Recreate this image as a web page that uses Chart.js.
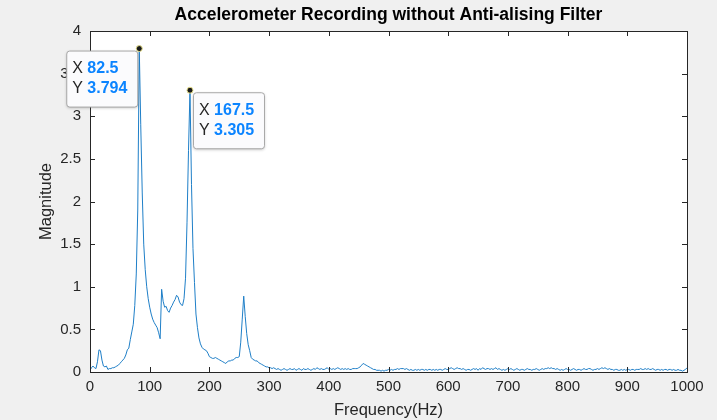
<!DOCTYPE html>
<html>
<head>
<meta charset="utf-8">
<script src="https://cdn.jsdelivr.net/npm/chart.js@4"></script>
<style>
  html, body { margin: 0; padding: 0; background: #f0f0f0; }
  #wrap { width: 717px; height: 420px; }
</style>
</head>
<body>
<div id="wrap"><canvas id="fft" width="717" height="420"></canvas></div>
<script>
const freqStep = 2.5;

// magnitude at 0, 2.5, 5 ... 1000 Hz
const magnitude = [
    0.02, 0.05, 0.07, 0.05, 0.04, 0.12, 0.26, 0.25, 0.14, 0.07, 0.06, 0.07, 0.03, 0.04, 0.04, 0.05, 0.05, 0.06, 0.07, 0.08,
    0.10, 0.12, 0.14, 0.16, 0.20, 0.26, 0.28, 0.38, 0.47, 0.56, 0.78, 1.15, 1.90, 3.794, 2.90, 2.10, 1.50, 1.20, 1.00, 0.86,
    0.76, 0.68, 0.62, 0.58, 0.55, 0.52, 0.46, 0.39, 0.97, 0.83, 0.76, 0.77, 0.72, 0.70, 0.75, 0.78, 0.82, 0.85, 0.90, 0.88,
    0.82, 0.79, 0.78, 0.86, 1.10, 1.75, 2.60, 3.305, 2.20, 1.45, 1.05, 0.68, 0.52, 0.40, 0.33, 0.29, 0.27, 0.26, 0.25, 0.22,
    0.18, 0.17, 0.16, 0.16, 0.17, 0.16, 0.15, 0.14, 0.13, 0.12, 0.11, 0.10, 0.12, 0.13, 0.13, 0.14, 0.14, 0.16, 0.17, 0.17,
    0.18, 0.35, 0.62, 0.89, 0.65, 0.45, 0.32, 0.25, 0.17, 0.15, 0.14, 0.13, 0.13, 0.11, 0.10, 0.09, 0.08, 0.07, 0.06, 0.06,
    0.05, 0.05, 0.04, 0.05, 0.04, 0.03, 0.04, 0.03, 0.02,
    0.03, 0.04, 0.03, 0.02, 0.03, 0.04, 0.03, 0.03, 0.04, 0.02, 0.03, 0.04, 0.03, 0.02, 0.04, 0.03, 0.03, 0.04, 0.03, 0.02,
    0.03, 0.04, 0.03, 0.05, 0.04, 0.03, 0.04, 0.03, 0.03, 0.04, 0.05, 0.03, 0.04, 0.03, 0.04, 0.03, 0.04, 0.05, 0.04, 0.03,
    0.04, 0.03, 0.04, 0.03, 0.04, 0.03, 0.03, 0.04, 0.04, 0.04, 0.04, 0.05, 0.06, 0.08, 0.10, 0.09, 0.08, 0.07, 0.06, 0.05,
    0.04, 0.03, 0.03, 0.02, 0.02, 0.02, 0.01, 0.02, 0.01, 0.02, 0.02, 0.03, 0.02, 0.03, 0.02, 0.03, 0.03, 0.04, 0.03, 0.04,
    0.04, 0.04, 0.03, 0.04, 0.03, 0.02, 0.03, 0.02, 0.02, 0.03, 0.02, 0.03, 0.02, 0.03, 0.03, 0.02, 0.03, 0.02, 0.03, 0.03,
    0.02, 0.03, 0.02, 0.03, 0.02, 0.03, 0.03, 0.02, 0.03, 0.04, 0.03, 0.03, 0.04, 0.05, 0.04, 0.03, 0.04, 0.05, 0.04, 0.04,
    0.03, 0.04, 0.03, 0.02, 0.03, 0.03, 0.02, 0.03, 0.04, 0.03, 0.04, 0.02, 0.04, 0.03, 0.05, 0.04, 0.03, 0.04, 0.04, 0.03,
    0.04, 0.03, 0.04, 0.05, 0.03, 0.04, 0.03, 0.02, 0.03, 0.02, 0.03, 0.04, 0.03, 0.04, 0.03, 0.02, 0.03, 0.04, 0.03, 0.02,
    0.03, 0.03, 0.02, 0.03, 0.04, 0.03, 0.03, 0.02, 0.03, 0.03, 0.04, 0.03, 0.02, 0.03, 0.04, 0.03, 0.04, 0.04, 0.05, 0.04,
    0.05, 0.04, 0.04, 0.03, 0.04, 0.03, 0.02, 0.03, 0.02, 0.03, 0.04, 0.03, 0.03, 0.02, 0.03, 0.04, 0.03, 0.02, 0.03, 0.03,
    0.02, 0.03, 0.04, 0.03, 0.03, 0.04, 0.04, 0.03, 0.02, 0.03, 0.03, 0.04, 0.03, 0.04, 0.05, 0.04, 0.05, 0.04, 0.03, 0.04,
    0.03, 0.03, 0.02, 0.03, 0.03, 0.02, 0.02, 0.03, 0.02, 0.03, 0.02, 0.03, 0.03, 0.02, 0.03, 0.03, 0.02, 0.03, 0.03, 0.03,
    0.04, 0.03, 0.03, 0.04, 0.03, 0.04, 0.03, 0.03, 0.04, 0.03, 0.02, 0.03, 0.03, 0.02, 0.03, 0.02, 0.03, 0.03, 0.02, 0.03,
    0.03, 0.02, 0.03, 0.02, 0.02, 0.03, 0.02, 0.02, 0.01, 0.02, 0.03, 0.05
];

const tipX = [82.5, 167.5];
const tipY = [3.794, 3.305];

const points = magnitude.map((m, i) => ({ x: i * freqStep, y: m }));

const ink = "#262626";
const face = "'Liberation Sans', Arial, sans-serif";

// MATLAB-ish axes: white box, inward ticks on all four sides
const axesBox = {
    id: "axesBox",
    beforeDraw(chart) {
        const { ctx, chartArea: a } = chart;
        ctx.save();
        ctx.fillStyle = "#f0f0f0";
        ctx.fillRect(0, 0, chart.width, chart.height);
        ctx.fillStyle = "#ffffff";
        ctx.fillRect(a.left, a.top, a.right - a.left, a.bottom - a.top);
        ctx.restore();
    },
    afterDatasetsDraw(chart) {
        const { ctx, chartArea: a, scales } = chart;
        const len = 5;
        ctx.save();
        ctx.strokeStyle = ink;
        ctx.lineWidth = 1;
        ctx.beginPath();
        scales.x.ticks.forEach((t) => {
            const px = Math.round(scales.x.getPixelForValue(t.value)) + 0.5;
            ctx.moveTo(px, a.bottom); ctx.lineTo(px, a.bottom - len);
            ctx.moveTo(px, a.top); ctx.lineTo(px, a.top + len);
        });
        scales.y.ticks.forEach((t) => {
            const py = Math.round(scales.y.getPixelForValue(t.value)) + 0.5;
            ctx.moveTo(a.left, py); ctx.lineTo(a.left + len, py);
            ctx.moveTo(a.right, py); ctx.lineTo(a.right - len, py);
        });
        ctx.stroke();
        ctx.strokeRect(Math.round(a.left) + 0.5, Math.round(a.top) + 0.5,
            Math.round(a.right - a.left), Math.round(a.bottom - a.top));
        ctx.restore();
    },
};

// data tips like the MATLAB ones
const dataTips = {
    id: "dataTips",
    afterDraw(chart) {
        const { ctx, scales } = chart;
        const w = 71, h = 56;
        tipX.forEach((xv, i) => {
            const px = scales.x.getPixelForValue(xv);
            const py = scales.y.getPixelForValue(tipY[i]);
            const bx = i === 0 ? px - w - 2 : px + 3;
            const by = py + 2;
            ctx.save();
            ctx.shadowColor = "rgba(0,0,0,0.25)";
            ctx.shadowBlur = 3;
            ctx.shadowOffsetY = 1;
            ctx.fillStyle = "#fbfbfd";
            ctx.beginPath();
            ctx.roundRect(bx + 0.5, by + 0.5, w, h, 3);
            ctx.fill();
            ctx.shadowColor = "transparent";
            ctx.strokeStyle = "#a8a8a8";
            ctx.lineWidth = 1;
            ctx.stroke();

            ctx.textBaseline = "middle";
            ctx.textAlign = "left";
            const rows = [["X", String(xv)], ["Y", tipY[i].toFixed(3)]];
            rows.forEach((r, k) => {
                const ty = by + 18.5 + k * 20;
                ctx.font = `16px ${face}`;
                ctx.fillStyle = ink;
                ctx.fillText(r[0], bx + 6, ty);
                const lw = ctx.measureText(r[0] + " ").width;
                ctx.font = `bold 16px ${face}`;
                ctx.fillStyle = "#0b84ff";
                ctx.fillText(r[1], bx + 6 + lw, ty);
            });

            ctx.beginPath();
            ctx.arc(px, py, 3, 0, Math.PI * 2);
            ctx.fillStyle = "#1a1a1a";
            ctx.fill();
            ctx.strokeStyle = "#e6df8a";
            ctx.lineWidth = 1;
            ctx.stroke();
            ctx.restore();
        });
    },
};

new Chart(document.getElementById("fft"), {
    type: "line",
    data: {
        datasets: [{
            data: points,
            borderColor: "#1f7fc8",
            borderWidth: 1,
            pointRadius: 0,
            tension: 0,
            fill: false,
        }],
    },
    options: {
        responsive: false,
        animation: false,
        events: [],
        layout: { padding: { top: 0, left: 37, right: 30, bottom: 0 } },
        plugins: {
            legend: { display: false },
            tooltip: { enabled: false },
            title: {
                display: true,
                fullSize: false,
                text: "Accelerometer Recording without Anti-alising Filter",
                color: "#000000",
                font: { family: face, size: 17.5, weight: "bold", lineHeight: 1.2 },
                padding: { top: 5, bottom: 5 },
            },
        },
        scales: {
            x: {
                type: "linear",
                min: 0,
                max: 1000,
                grid: { display: false, drawTicks: false },
                border: { display: false },
                ticks: {
                    stepSize: 100,
                    maxRotation: 0,
                    padding: 6,
                    color: ink,
                    font: { family: face, size: 15 },
                    callback: (v) => String(v),
                },
                title: {
                    display: true,
                    text: "Frequency(Hz)",
                    color: ink,
                    padding: 0,
                    font: { family: face, size: 16.5 },
                },
                afterFit(scale) {
                    scale.height = 48;
                    scale.paddingLeft = 0;
                    scale.paddingRight = 0;
                },
            },
            y: {
                min: 0,
                max: 4,
                grid: { display: false, drawTicks: false },
                border: { display: false },
                ticks: {
                    stepSize: 0.5,
                    padding: 9,
                    color: ink,
                    font: { family: face, size: 15 },
                    callback: (v) => String(v),
                },
                title: {
                    display: true,
                    text: "Magnitude",
                    color: ink,
                    padding: 0,
                    font: { family: face, size: 16.5 },
                },
                afterFit(scale) {
                    scale.width = 53;
                    scale.paddingTop = 0;
                    scale.paddingBottom = 0;
                },
            },
        },
    },
    plugins: [axesBox, dataTips],
});
</script>
</body>
</html>
